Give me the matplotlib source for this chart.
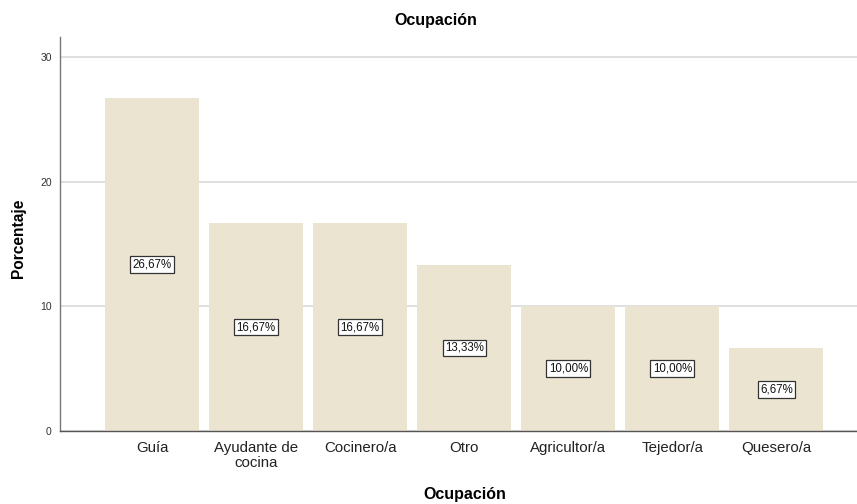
import matplotlib
matplotlib.use("Agg")
import matplotlib.pyplot as plt

categories = ["Guía", "Ayudante de\ncocina", "Cocinero/a", "Otro", "Agricultor/a", "Tejedor/a", "Quesero/a"]
values = [26.67, 16.67, 16.67, 13.33, 10.00, 10.00, 6.67]
labels = ["26,67%", "16,67%", "16,67%", "13,33%", "10,00%", "10,00%", "6,67%"]
yticks = [0, 10, 20, 30]

plt.rcParams['font.family'] = ['Liberation Sans', 'DejaVu Sans']

fig = plt.figure(figsize=(8.57, 5.04), dpi=100)
ax = fig.add_axes([60/857, 1-431/504, 1-60/857, (431-37)/504])

x = list(range(len(categories)))
ax.bar(x, values, width=0.904, color="#ebe4d0", zorder=2)
ax.set_xlim(-0.885, 6.774)
ax.set_ylim(0, 31.6)
ax.set_yticks(yticks)
ax.set_yticklabels([str(t) for t in yticks], fontsize=7.5, color="#333333")
ax.set_xticks(x)
ax.set_xticklabels(categories, fontsize=10.8, color="#222222", linespacing=1.1)
ax.tick_params(axis='both', length=0)
ax.tick_params(axis='x', pad=7)
ax.tick_params(axis='y', pad=6)
ax.yaxis.grid(True, color="#d9d9d9", linewidth=1.2, zorder=0)
for s in ["top", "right"]:
    ax.spines[s].set_visible(False)
ax.spines["left"].set_color("#777777")
ax.spines["bottom"].set_color("#555555")
ax.spines["left"].set_linewidth(1.0)
ax.spines["bottom"].set_linewidth(1.0)

for xi, v, lab in zip(x, values, labels):
    ax.text(xi, v/2, lab, ha="center", va="center", fontsize=8.3, color="#111111", zorder=4,
            bbox=dict(boxstyle="square,pad=0.2", facecolor="white", edgecolor="#333333", linewidth=0.9))

fig.text(436/857, 1-21/504, "Ocupación", ha="center", va="center", fontsize=11.5, fontweight="bold")
fig.text(465/857, 1-494/504, "Ocupación", ha="center", va="center", fontsize=11.5, fontweight="bold")
fig.text(19/857, 1-238/504, "Porcentaje", ha="center", va="center", rotation=90, fontsize=11.2, fontweight="bold")

fig.savefig("out.png", dpi=100)
